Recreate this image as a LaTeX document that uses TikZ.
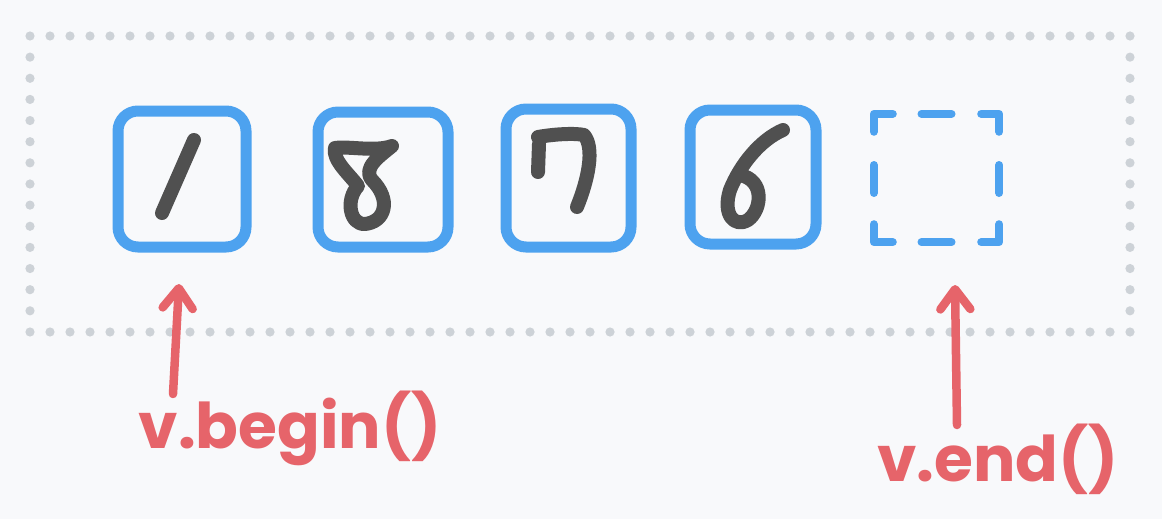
\documentclass[tikz,border=0pt]{standalone}
\usepackage{fontspec}
\newfontfamily\handfont{Poppins}
\usetikzlibrary{arrows.meta,calc}
\definecolor{bgc}{HTML}{F8F9FB}
\definecolor{dotc}{HTML}{CDD2D7}
\definecolor{boxc}{HTML}{4DA2EF}
\definecolor{digc}{HTML}{505050}
\definecolor{redc}{HTML}{E6646A}
\tikzset{
  cell/.style={draw=boxc, line width=11pt, rounded corners=20pt, inner sep=0pt},
  ghost/.style={inner sep=0pt},
  dashseg/.style={draw=boxc, line width=8pt, line cap=round, line join=round},
  digit/.style={draw=digc, line width=14pt, line cap=round, line join=round},
  pointer/.style={draw=redc, line width=8.5pt, line cap=round,
    -{Straight Barb[length=20pt,width=30pt,round]}},
  lbl/.style={text=redc, font=\handfont\bfseries\fontsize{63}{69}\selectfont, inner sep=0pt}
}
\begin{document}
\begin{tikzpicture}[x=1pt,y=-1pt]
\fill[bgc] (0,0) rectangle (1162,519);
\useasboundingbox (0,0) rectangle (1162,519);
% dotted frame
\foreach \i in {0,...,55} {
  \fill[dotc] (30+\i*20,36) circle (4.6pt);
  \fill[dotc] (30+\i*20,332) circle (4.6pt);
}
\foreach \j in {1,...,13} {
  \fill[dotc] (30,36+\j*21.14) circle (4.6pt);
  \fill[dotc] (1130,36+\j*21.14) circle (4.6pt);
}
% boxes
\node[cell, minimum width=128pt, minimum height=136pt] (b1) at (182,179) {};
\node[cell, minimum width=130pt, minimum height=135pt] (b2) at (383,179.5) {};
\node[cell, minimum width=125pt, minimum height=138pt] (b3) at (568.5,178) {};
\node[cell, minimum width=126pt, minimum height=134pt] (b4) at (753,177) {};
\node[ghost, minimum width=125pt, minimum height=128pt] (b5) at (936.5,178) {};
% dashed empty slot
\draw[dashseg] ($(b5.north west)+(0,18)$) -- (b5.north west) -- ++(19,0);
\draw[dashseg] ($(b5.north)+(-15,0)$) -- ++(30,0);
\draw[dashseg] ($(b5.north east)+(-18,0)$) -- (b5.north east) -- ++(0,18);
\draw[dashseg] ($(b5.west)+(0,-13)$) -- ++(0,28);
\draw[dashseg] ($(b5.east)+(0,-13)$) -- ++(0,28);
\draw[dashseg] ($(b5.south west)+(0,-18)$) -- (b5.south west) -- ++(19,0);
\draw[dashseg] ($(b5.south)+(-15,0)$) -- ++(30,0);
\draw[dashseg] ($(b5.south east)+(-18,0)$) -- (b5.south east) -- ++(0,-18);
% digits
\draw[digit] (194,140) -- (162,213);
\draw[digit] (392,146) .. controls (375,152) and (350,146) .. (335,148)
  .. controls (332,160) and (350,175) .. (358,186)
  .. controls (345,200) and (350,225) .. (365,224)
  .. controls (385,222) and (392,200) .. (372,180)
  .. controls (362,168) and (380,156) .. (392,146);
\draw[digit] (539,144) -- (538,172);
\draw[digit] (538,137) .. controls (555,134) and (575,133) .. (584,135)
  .. controls (595,148) and (588,180) .. (577,207);
\draw[digit] (783,130) .. controls (760,140) and (740,165) .. (730,190)
  .. controls (722,215) and (735,228) .. (748,220)
  .. controls (762,210) and (765,180) .. (740,175);
% pointers
\coordinate (tb) at (173,394);
\coordinate (hb) at (179,284);
\coordinate (te) at (957,425);
\coordinate (he) at (955,285);
\draw[pointer] (tb) -- (hb);
\draw[pointer] (te) -- (he);
\node[lbl, anchor=base] (lb) at (290,448) {v.begin()};
\node[lbl, anchor=base] (le) at (998,481) {v.end()};
\end{tikzpicture}
\end{document}
